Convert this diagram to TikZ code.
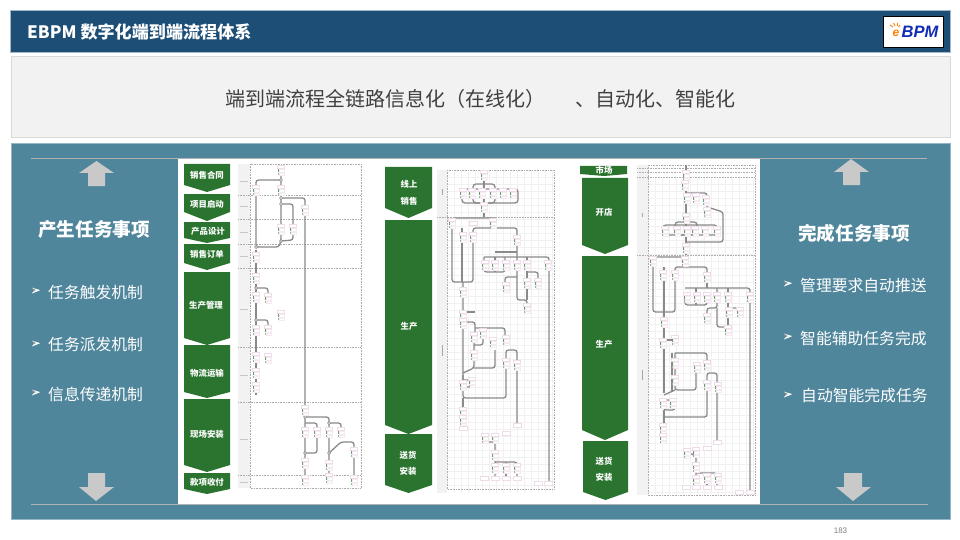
\documentclass[tikz,border=0pt]{standalone}
\usepackage{fontspec}
\setmainfont{Noto Sans CJK SC}
\newfontfamily\latinf{Liberation Sans}
\definecolor{hdr}{HTML}{1D4E76}
\definecolor{teal}{HTML}{4F869C}
\definecolor{gn}{HTML}{2A742F}
\definecolor{flowline}{HTML}{8A8A8A}
\definecolor{pk}{HTML}{EFDCE9}
\definecolor{arrowgrey}{HTML}{C9C9C9}
\definecolor{lanegrey}{HTML}{F2F2F2}
\definecolor{gridgrey}{HTML}{F1F1F1}
\tikzset{
  x=1pt,y=-1pt,
  flow/.style={draw=flowline,line width=1.3pt,rounded corners=2.5pt},
  lane/.style={draw=gray!65,line width=.6pt,densely dotted},
  chev/.style={fill=gn,draw=none},
  chevtext/.style={text=white,font=\fontsize{8.4}{10}\selectfont\bfseries,inner sep=0pt},
  heading/.style={text=white,font=\fontsize{18.6}{22}\selectfont\bfseries,inner sep=0pt},
  item/.style={text=white,font=\fontsize{15.8}{18}\selectfont,inner sep=0pt,anchor=west},
  bigarrow/.style={fill=arrowgrey,draw=none},
  tk/.pic={
    \fill[white,draw=pk,line width=.5pt] (-3.5,-5) rectangle (3.5,-2);
    \fill[gn!70] (-3.5,-1) rectangle (-2.2,2);
    \fill[white,draw=pk!60,line width=.3pt] (-1.4,-1) rectangle (3.5,2);
    \fill[gn!50] (-3.5,3) rectangle (-2.2,5);
    \fill[white,draw=pk!60,line width=.3pt] (-1.4,3) rectangle (3.5,5.5);
  },
  bul/.pic={
    \fill[white] (-5,-4) -- (5,-1) -- (-5,3) -- (-2,-.5) -- cycle;
    \fill[gray] (-5,-4) -- (0,-.8) -- (-2,-.5) -- cycle;
  }
}
\newcommand{\chevron}[5]{\fill[chev] (#1,#3) -- (#2,#3) -- (#2,#4) -- ({(#1+#2)/2},#5) -- (#1,#4) -- cycle;}
\begin{document}
\begin{tikzpicture}
\useasboundingbox (0,0) rectangle (960,540);
\fill[white] (0,0) rectangle (960,540);
% header
\node[fill=hdr,draw=hdr!40,line width=.6pt,minimum width=940pt,minimum height=42pt,inner sep=0pt,anchor=north west] (header) at (10,10) {};
\node[text=white,font=\fontsize{17.1}{20}\selectfont\bfseries,anchor=west,inner sep=0pt] (title) at (27,32) {EBPM 数字化端到端流程体系};
\node[fill=white,draw=black,line width=.8pt,minimum width=60pt,minimum height=31pt,inner sep=0pt,anchor=north west] (logo) at (883,16) {};
\node[text=blue!45!hdr,font=\latinf\fontsize{16.5}{18}\selectfont\bfseries\itshape,inner sep=0pt] (logotext) at (920,32) {BPM};
\node[text=orange,font=\latinf\fontsize{12}{14}\selectfont\bfseries\itshape,inner sep=0pt] (logoe) at (896,33.5) {e};
\foreach \pa/\pb/\pc/\pd in {890/25/893/27,893.5/23/895/26,897/23/897/26,900/25/898.5/27}{\draw[orange,line width=.9pt] (\pa,\pb) -- (\pc,\pd);}
% banner
\node[fill=lanegrey,draw=gray!30,line width=.8pt,minimum width=939pt,minimum height=81pt,inner sep=0pt,anchor=north west] (banner) at (11,56) {};
\node[text=black!75,font=\fontsize{20}{24}\selectfont,inner sep=0pt,anchor=west] (bannertext) at (225,99) {端到端流程全链路信息化（在线化）\hspace{30pt}、自动化、智能化};
% main panel
\node[fill=teal,draw=teal!60,line width=.8pt,minimum width=939pt,minimum height=376pt,inner sep=0pt,anchor=north west] (panel) at (11,143) {};
\fill[white] (178,158) rectangle (760,504);
\draw[gray!60!white,line width=.9pt] (31,158) -- (927,158);
\draw[gray!60!white,line width=.9pt] (31,504) -- (928,504);
% arrows
\fill[bigarrow] (96.5,161) -- (114,173) -- (105,173) -- (105,186) -- (88,186) -- (88,173) -- (79,173) -- cycle;
\fill[bigarrow] (851,159) -- (869,172) -- (860,172) -- (860,185) -- (843,185) -- (843,172) -- (834,172) -- cycle;
\fill[bigarrow] (96,501) -- (79,487) -- (88,487) -- (88,473) -- (105,473) -- (105,487) -- (114,487) -- cycle;
\fill[bigarrow] (853,501) -- (836,487) -- (844,487) -- (844,473) -- (862,473) -- (862,487) -- (871,487) -- cycle;
% side text
\node[heading] (left) at (94,230) {产生任务事项};
\node[heading] (right) at (854,233) {完成任务事项};
\node[item] (l1) at (48,292) {任务触发机制};
\node[item] (l2) at (48,345) {任务派发机制};
\node[item] (l3) at (48,394) {信息传递机制};
\node[item] (r1) at (800,285) {管理要求自动推送};
\node[item] (r2) at (800,338) {智能辅助任务完成};
\node[item] (r3) at (801,395) {自动智能完成任务};
\foreach \px/\py in {36/291,36/344,36/393,788/284,788/337,788/395}{\pic[scale=.85] at (\px,\py) {bul};}
% ---- column 1 chevrons
\chevron{184}{230}{164}{185}{192}
\chevron{184}{230}{194}{212}{221}
\chevron{184}{230}{222}{238}{243}
\chevron{184}{230}{244}{263}{270}
\chevron{184}{230}{272}{338}{345}
\chevron{184}{230}{345}{392}{398}
\chevron{184}{230}{399}{465}{472}
\chevron{184}{230}{473}{489}{494}
\foreach \lbl/\px/\py in {销售合同/207/175,项目启动/207/204,产品设计/208/231,销售订单/207/254,生产管理/206/305,物流运输/207/373,现场安装/207/434,款项收付/207/482}{\node[chevtext] at (\px,\py) {\lbl};}
% column 1 chart
\fill[lanegrey] (238,164) rectangle (250,488);
\draw[lane] (250,164) rectangle (361,488);
\foreach \py in {195,219,244,268,347,402,475}{\draw[lane] (238,\py) -- (361,\py);}
\foreach \py in {181,206,232,256,309,375,439,482}{\draw[gray!45,line width=.8pt] (240,\py) -- (248,\py);}
\draw[flow] (281,168) -- (281,240) -- (279,247) -- (256,247) -- (256,180) -- (281,180);
\draw[flow] (281,198) -- (305,198) -- (305,405) -- (305,477);
\draw[flow] (281,204) -- (293,204) -- (293,240) -- (281,241);
\draw[flow] (256,288) -- (268,288) -- (268,293);
\draw[flow] (256,320) -- (268,320) -- (268,326);
\draw[flow] (256,250) -- (256,395);
\draw[flow] (305,417) -- (329,417) -- (329,477);
\draw[flow] (329,423) -- (341,423) -- (341,430);
\draw[flow] (305,423) -- (317,423) -- (317,453) -- (305,453);
\draw[flow] (329,453) -- (341,442) -- (354,442) -- (354,477);
\foreach \pt in {(281,180),(281,198),(281,204),(281,241),(256,247),(256,288),(256,320),(305,417),(329,423),(305,453),(329,453)}{\draw[flowline,fill=white,line width=.7pt] \pt circle (1.5);}
\foreach \px/\py in {281/170,256/190,281/190,305/210,281/229,293/229,256/257,256/278,256/297,268/298,281/315,256/330,268/330,256/357,268/358,256/373,256/387,305/410,305/432,317/432,329/432,341/432,305/463,329/465,354/452,305/480,329/478,354/480}{\pic at (\px,\py) {tk};}
% ---- column 2 chevrons
\chevron{385}{432}{167}{208}{218}
\chevron{385}{432}{220}{425}{434}
\chevron{385}{432}{434}{485}{493}
\foreach \lbl/\px/\py in {线上/409/184,销售/409/201,生产/409/326,送货/408/455,安装/408/471}{\node[chevtext] at (\px,\py) {\lbl};}
% column 2 chart
\fill[lanegrey] (437,170) rectangle (447,493);
\foreach \px in {454,461,...,552}{\draw[gridgrey,line width=.4pt] (\px,170) -- (\px,493);}
\foreach \py in {177,184,...,491}{\draw[gridgrey,line width=.4pt] (447,\py) -- (554,\py);}
\draw[lane] (447,170) rectangle (554,489);
\draw[lane] (437,217) -- (554,217);
\draw[gray!70,line width=.8pt] (442,189) -- (442,195);
\draw[gray!70,line width=.8pt] (442,345) -- (442,356);
\draw[flow,rounded corners=3pt] (462,189) rectangle (518,203);
\draw[flow,rounded corners=3pt] (473,184) rectangle (495,203);
\draw[flow] (484,172) -- (484,217);
\draw[flow] (495,218) -- (452,218) -- (452,282) -- (473,282) -- (473,228) -- (517,228) -- (517,235);
\draw[flow] (462,228) -- (462,282);
\draw[flow] (463,282) -- (463,398) -- (506,398) -- (506,350) -- (517,350) -- (517,425);
\draw[flow] (517,240) -- (517,300) -- (527,300) -- (527,305);
\draw[flow] (495,252) -- (517,252);
\draw[flow] (484,257) -- (549,257) -- (549,483);
\draw[flow] (484,257) -- (484,272) -- (505,272) -- (505,257);
\draw[flow] (495,257) -- (495,272);
\draw[flow] (527,257) -- (527,300);
\draw[flow] (527,272) -- (538,272) -- (538,287);
\draw[flow] (517,277) -- (505,277) -- (505,287);
\draw[flow] (463,312) -- (475,312);
\draw[flow] (463,322) -- (475,322) -- (475,332);
\draw[flow] (475,328) -- (505,328) -- (505,336);
\draw[flow] (474,345) -- (483,345) -- (483,332);
\draw[flow] (474,340) -- (474,368) -- (463,373);
\draw[flow] (474,368) -- (495,368) -- (495,350);
\draw[flow] (463,375) -- (463,387) -- (474,387) -- (474,380) -- (463,380);
\draw[flow] (463,398) -- (463,425);
\draw[flow] (485,442) -- (495,442) -- (495,450) -- (495,478);
\draw[flow] (495,462) -- (517,462) -- (517,477);
\draw[flow] (506,462) -- (506,477);
\foreach \px/\py in {484/175,484/207,463/193,472/193,482/193,493/193,503/193,513/193,452/223,493/223,463/237,473/237,517/240,485/265,495/265,506/265,517/265,527/265,548/265,506/287,527/283,538/283,463/292,527/308,463/315,463/323,474/337,483/333,474/355,493/342,506/340,506/363,517/365,463/385,472/382,463/412,463/420,485/438,495/438,495/455,495/468,506/468,517/468}{\pic at (\px,\py) {tk};}
\foreach \px/\py in {473/223,506/433,484/478,495/478,506/478,517/478,538/483,548/483,517/425,463/428}{\draw[pk,fill=white,line width=.5pt] (\px-4,\py-1.5) rectangle (\px+4,\py+2);}
% ---- column 3 chevrons
\fill[chev] (580,166) -- (627,166) -- (627,174) -- (604,176) -- (580,174) -- cycle;
\chevron{582}{628}{178}{245}{254}
\chevron{582}{628}{256}{430}{440}
\chevron{583}{628}{441}{492}{500}
\foreach \lbl/\px/\py in {市场/604/170,开店/604/212,生产/604/344,送货/604/461,安装/604/477}{\node[chevtext] at (\px,\py) {\lbl};}
% column 3 chart
\fill[lanegrey] (637,165) rectangle (648,495);
\foreach \px in {655,662,...,753}{\draw[gridgrey,line width=.4pt] (\px,177) -- (\px,495);}
\foreach \py in {184,191,...,493}{\draw[gridgrey,line width=.4pt] (648,\py) -- (755,\py);}
\draw[lane] (648,165) rectangle (755,495);
\foreach \py in {168,172,177,255}{\draw[lane] (637,\py) -- (755,\py);}
\draw[gray!70,line width=.8pt] (642,213) -- (642,217);
\draw[gray!70,line width=.8pt] (642,370) -- (642,380);
\draw[flow] (686,165) -- (686,255);
\draw[flow] (686,193) -- (707,193) -- (707,207);
\draw[flow] (707,207) -- (723,212) -- (723,242) -- (686,242);
\draw[flow,rounded corners=3pt] (663,225) rectangle (717,235);
\draw[flow,rounded corners=3pt] (675,222) rectangle (697,235);
\draw[flow] (685,257) -- (653,257) -- (653,312) -- (675,312) -- (675,267) -- (707,267) -- (707,278);
\draw[flow] (664,267) -- (664,393);
\draw[flow] (685,257) -- (685,262);
\draw[flow] (707,278) -- (707,288);
\draw[flow] (685,288) -- (750,288) -- (750,490);
\draw[flow] (685,292) -- (685,305) -- (707,305) -- (707,292);
\draw[flow] (696,288) -- (696,305);
\draw[flow] (728,288) -- (728,328);
\draw[flow] (717,288) -- (717,308) -- (707,308) -- (707,318);
\draw[flow] (728,308) -- (740,308) -- (740,318);
\draw[flow] (717,308) -- (717,327) -- (728,327);
\draw[flow] (675,353) -- (707,353) -- (707,360);
\draw[flow] (675,353) -- (675,390) -- (696,390) -- (696,373);
\draw[flow] (672,353) -- (672,392);
\draw[flow] (664,395) -- (675,390);
\draw[flow] (664,398) -- (664,410) -- (675,410) -- (675,400) -- (664,400);
\draw[flow] (664,417) -- (707,417) -- (707,373) -- (717,373) -- (717,442);
\draw[flow] (664,410) -- (664,440);
\draw[flow] (687,452) -- (696,456) -- (696,487);
\draw[flow] (696,473) -- (717,473) -- (717,487);
\draw[flow] (707,473) -- (707,487);
\draw[flow] (664,340) -- (675,340);
\foreach \px/\py in {686/175,685/185,687/198,696/198,706/200,707/212,686/218,665/231,677/231,687/231,695/231,705/231,717/231,686/248,653/261,685/261,663/275,675/275,707/277,687/297,697/297,707/297,717/297,728/297,750/297,707/318,729/312,740/312,664/322,728/330,663/343,675/340,675/363,697/367,707/365,675/380,707/385,718/387,663/403,673/403,663/428,663/438,687/453,696/452,696/467,696/480,707/478,718/478}{\pic at (\px,\py) {tk};}
\foreach \px/\py in {686/487,696/487,707/487,718/487,739/492,750/492,707/448,717/442}{\draw[pk,fill=white,line width=.5pt] (\px-4,\py-1.5) rectangle (\px+4,\py+2);}
% page number
\node[text=gray,font=\latinf\fontsize{8}{10}\selectfont,inner sep=0pt] (page) at (840.5,531) {183};
\end{tikzpicture}
\end{document}
